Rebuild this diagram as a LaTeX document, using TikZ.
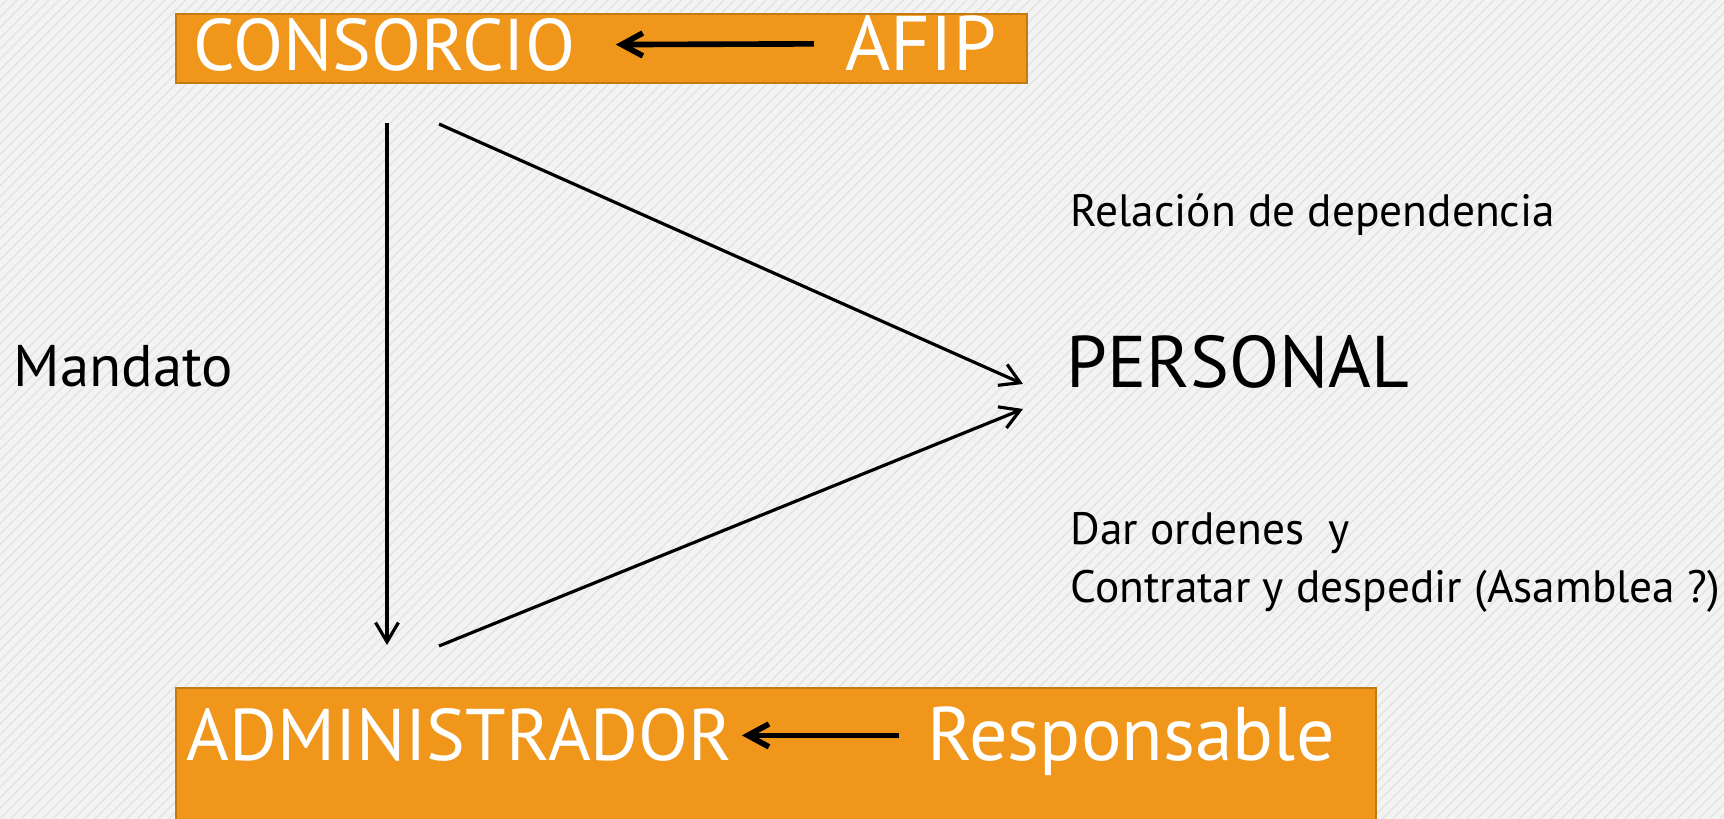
\documentclass[tikz,border=0pt]{standalone}
\usepackage{fontspec}
\setmainfont{PT Sans}
\usepackage{tikz}
\usetikzlibrary{arrows.meta,positioning,patterns}
\definecolor{naranja}{HTML}{F0961A}
\definecolor{naranjaborde}{HTML}{C47A12}
\definecolor{fondo}{HTML}{F3F3F3}
\definecolor{raya}{HTML}{E4E4E4}
\tikzset{
    caja/.style={rectangle,draw=naranjaborde,fill=naranja,line width=0.7pt,inner sep=0pt,anchor=north west},
    titulo/.style={node font=\fontsize{22}{26}\selectfont,text=white,inner sep=0pt,anchor=base west},
    mayus/.style={node font=\fontsize{20.8}{25}\selectfont},
    etiqueta/.style={node font=\fontsize{12.9}{15}\selectfont,inner sep=0pt,anchor=base west},
    flecha/.style={draw,line width=0.9pt,-{Straight Barb[length=5.5pt,width=6.5pt]}},
    flechagruesa/.style={draw,line width=1.6pt,-{Straight Barb[length=6pt,width=6.5pt]}},
}

\begin{document}
\begin{tikzpicture}[x=0.01cm,y=-0.01cm]
    \useasboundingbox (0,0) rectangle (1724,819);
    \fill [fondo] (0,0) rectangle (1724,819);
    \fill [pattern=north east lines,pattern color=raya] (0,0) rectangle (1724,819);
    % cajas
    \node [caja,minimum width=8.5cm,minimum height=0.69cm] (cajasup) at (175,13) {};
    \node [caja,minimum width=11.99cm,minimum height=1.6cm] (cajainf) at (175,687) {};
    \node [titulo,mayus] (consorcio) at (193,71) {CONSORCIO};
    \node [titulo] (afip) at (845,71) {AFIP};
    \node [titulo,mayus] (admin) at (186,761) {ADMINISTRADOR};
    \node [titulo,node font=\fontsize{21.6}{26}\selectfont] (resp) at (927,761) {Responsable};
    % textos
    \node [titulo,mayus,text=black] (personal) at (1066,388) {PERSONAL};
    \node [etiqueta,node font=\fontsize{16.7}{19}\selectfont] (mandato) at (13,387) {Mandato};
    \node [etiqueta] (relacion) at (1070,227) {Relación de dependencia};
    \node [etiqueta] (ordenes) at (1070,545) {Dar ordenes\ \ y};
    \node [etiqueta] (contratar) at (1070,603) {Contratar y despedir (Asamblea ?)};
    % triangulo
    \coordinate (va) at (387,123);
    \coordinate (vb) at (387,645);
    \coordinate (da) at (439,124);
    \coordinate (db) at (439,646);
    \coordinate (pa) at (1023,384);
    \coordinate (pb) at (1023,409);
    \path [flecha] (va) -- (vb);
    \path [flecha] (da) -- (pa);
    \path [flecha] (db) -- (pb);
    \path [flechagruesa,shorten <=0.31cm,shorten >=0.4cm] (afip) -- (consorcio);
    \path [flechagruesa,shorten <=0.28cm,shorten >=0.09cm] (resp.west |- admin.east) -- (admin.east);
\end{tikzpicture}
\end{document}
